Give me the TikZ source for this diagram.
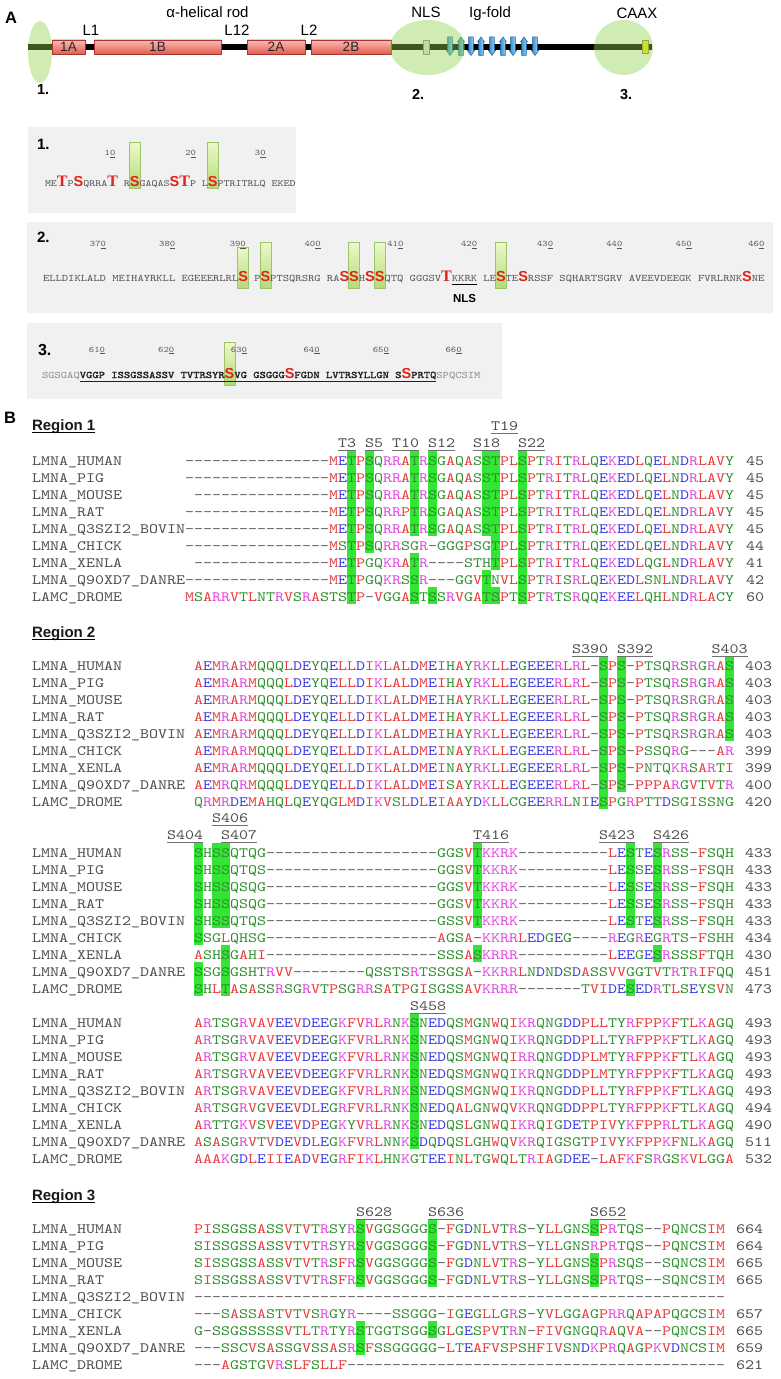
\documentclass[tikz,border=0pt]{standalone}
\usepackage{fontspec}
\usetikzlibrary{calc}
\newfontfamily\alnfont{lmmono10-regular.otf}[FakeStretch=1.2]
\newfontfamily\alnbold{lmmono10-regular.otf}[FakeStretch=1.2,FakeBold=2]
\newfontfamily\sansf{Liberation Sans}
\newfontfamily\serff{Liberation Serif}
\pgfdeclarelayer{bg}
\pgfsetlayers{bg,main}
\definecolor{cred}{HTML}{E83A3A}
\definecolor{cblue}{HTML}{3A3AE0}
\definecolor{cmag}{HTML}{E045E0}
\definecolor{cgreen}{HTML}{2E8F2E}
\definecolor{gapc}{HTML}{606060}
\definecolor{namec}{HTML}{4D4D4D}
\definecolor{labline}{HTML}{707070}
\definecolor{hlc}{HTML}{33E633}
\definecolor{bigred}{HTML}{E02418}
\definecolor{pgray}{HTML}{505050}
\definecolor{pdark}{HTML}{222222}
\definecolor{plight}{HTML}{8A8A8A}
\definecolor{pnumc}{HTML}{555555}
\definecolor{ellg}{rgb}{0.57,0.83,0.29}
\definecolor{pbox}{HTML}{F1F1F1}
\definecolor{bartop}{HTML}{EEF8CA}
\definecolor{barbot}{HTML}{B3DB78}
\definecolor{barbd}{HTML}{9DC46C}
\definecolor{domtop}{HTML}{F9BDB5}
\definecolor{dombot}{HTML}{E35B52}
\definecolor{dombd}{HTML}{A8362C}
\definecolor{igL}{HTML}{2A85CE}
\definecolor{igR}{HTML}{A8DEF8}
\definecolor{igbd}{HTML}{1F5E95}
\colorlet{aaA}{cred}\colorlet{aaV}{cred}\colorlet{aaF}{cred}\colorlet{aaP}{cred}
\colorlet{aaM}{cred}\colorlet{aaI}{cred}\colorlet{aaL}{cred}\colorlet{aaW}{cred}
\colorlet{aaD}{cblue}\colorlet{aaE}{cblue}
\colorlet{aaR}{cmag}\colorlet{aaK}{cmag}
\colorlet{aaS}{cgreen}\colorlet{aaT}{cgreen}\colorlet{aaY}{cgreen}\colorlet{aaH}{cgreen}
\colorlet{aaC}{cgreen}\colorlet{aaN}{cgreen}\colorlet{aaG}{cgreen}\colorlet{aaQ}{cgreen}
\makeatletter
\def\colseq#1{\colseq@#1\@nil}
\def\colseq@#1{\ifx#1\@nil\else\colchar{#1}\expandafter\colseq@\fi}
\makeatother
\def\colchar#1{\if#1-\textcolor{gapc}{-}\else\if#1.\hphantom{-}\else\textcolor{aa#1}{#1}\fi\fi}
\newcommand\psp{\hphantom{M}}
\tikzset{
 aseq/.style={font=\alnfont\fontsize{14.2857bp}{17bp}\selectfont, inner sep=0pt, outer sep=0pt},
 aname/.style={aseq, text=namec},
 alab/.style={aseq, text=namec},
 lablin/.style={draw=labline, line width=1.1bp},
 psa/.style={font=\alnfont\fontsize{9.52bp}{11bp}\selectfont, text=pgray, inner sep=0pt, outer sep=0pt},
 psb/.style={font=\alnfont\fontsize{10bp}{12bp}\selectfont, text=pgray, inner sep=0pt, outer sep=0pt},
 pbd/.style={font=\alnbold\fontsize{10bp}{12bp}\selectfont, text=pdark, inner sep=0pt, outer sep=0pt},
 pgr/.style={font=\alnfont\fontsize{10bp}{12bp}\selectfont, text=plight, inner sep=0pt, outer sep=0pt},
 bigS/.style={font=\sansf\bfseries\fontsize{14.5bp}{16bp}\selectfont, text=bigred, inner sep=0pt, outer sep=0pt},
 bigT/.style={font=\serff\bfseries\fontsize{16bp}{18bp}\selectfont, text=bigred, inner sep=0pt, outer sep=0pt},
 pnum/.style={font=\alnfont\fontsize{8.5bp}{10bp}\selectfont, text=pnumc, inner sep=0pt, outer sep=0pt},
 plab/.style={font=\sansf\bfseries\fontsize{15bp}{17bp}\selectfont, inner sep=0pt, outer sep=0pt},
 toplab/.style={font=\sansf\fontsize{15bp}{17bp}\selectfont, inner sep=0pt, outer sep=0pt},
 dombox/.style={draw=dombd, line width=0.8bp, top color=domtop, bottom color=dombot, minimum height=14bp, inner sep=0pt, font=\sansf\fontsize{13.5bp}{14bp}\selectfont, text=black!85},
 igarr/.style={left color=igL, right color=igR, draw=igbd, line width=0.5bp},
 pbarst/.style={draw=barbd, line width=0.6bp, top color=bartop, bottom color=barbot},
 reghead/.style={font=\sansf\bfseries\fontsize{15bp}{17bp}\selectfont, text=black!90, inner sep=0pt, outer sep=0pt},
}
% alignment row: id, x0, baseline, name, sequence, number, number x
\newcommand\arow[7]{%
  \node[aname, anchor=base west] (#1n) at (32,#3) {#4};
  \node[aseq, anchor=base west] (#1s) at (#2,#3) {\colseq{#5}};
  \node[aname, anchor=base west] (#1c) at (#7,#3) {#6};}
% highlight: x0, column, centre of row 0, first row, last row
\newcommand\hlbox[5]{\fill[hlc] ({#1+9*#2},{#3+17*#4-10.5}) rectangle ({#1+9*#2+9},{#3+17*#5+7});}
% site label: id, x0, column, centre y, text
\newcommand\slab[5]{%
  \node[alab, anchor=base west] (#1) at ({#2+9*#3},{#4+4.4}) {#5};
  \draw[lablin] ($(#1.base west)+(0,3.5)$) -- ($(#1.base east)+(0,3.5)$);}
% green bar behind a big residue: node, top y, bottom y
\newcommand\pbar[3]{\begin{pgfonlayer}{bg}\path[pbarst] ($(#1.center |- 0,#2)+(-5.5,0)$) rectangle ($(#1.center |- 0,#3)+(5.5,0)$);\end{pgfonlayer}}
\newcommand\igup[1]{\path[igarr] ({#1-2.3},55.5) -- ({#1-2.3},42) -- ({#1-3.6},42) -- (#1,37) -- ({#1+3.6},42) -- ({#1+2.3},42) -- ({#1+2.3},55.5) -- cycle;}
\newcommand\igdown[1]{\path[igarr] ({#1-2.3},37) -- ({#1-2.3},50.5) -- ({#1-3.6},50.5) -- (#1,55.5) -- ({#1+3.6},50.5) -- ({#1+2.3},50.5) -- ({#1+2.3},37) -- cycle;}
\begin{document}
\begin{tikzpicture}[x=1bp,y=-1bp]
\useasboundingbox (0,0) rectangle (780,1379);
\begin{pgfonlayer}{bg}
\fill[white] (0,0) rectangle (780,1379);
\fill[pbox] (28,127) rectangle (296,213);
\fill[pbox] (27,222) rectangle (773,313);
\fill[pbox] (27,323) rectangle (502,399);
\end{pgfonlayer}

% ================= Panel A: domain diagram =================
\node[anchor=base west, font=\sansf\bfseries\fontsize{16.5bp}{18bp}\selectfont, inner sep=0pt] (labA) at (5,23.3) {A};
\draw[line width=6bp, black] (28,47) -- (652,47);
\node[dombox, minimum width=33bp] (d1A) at (68.5,47) {1A};
\node[dombox, minimum width=127bp] (d1B) at (157.5,47) {1B};
\node[dombox, minimum width=58bp] (d2A) at (276,47) {2A};
\node[dombox, minimum width=80bp] (d2B) at (351,47) {2B};
\node[draw=black!45, fill=black!18!blue!12!white, minimum width=6bp, minimum height=14bp, inner sep=0pt, line width=0.6bp] (nlsbox) at (426,47) {};
\node[draw=black!50!yellow, fill=yellow!95!orange, minimum width=6bp, minimum height=13bp, inner sep=0pt, line width=0.6bp] (caaxbox) at (645,47) {};
\igdown{450}\igup{461}\igdown{471}\igup{481}\igdown{492}\igup{503}\igdown{513}\igup{524}\igdown{535}
\fill[ellg, opacity=0.42] (40,52) ellipse [x radius=12bp, y radius=31bp];
\fill[ellg, opacity=0.42] (427.5,47.5) ellipse [x radius=37.5bp, y radius=27.5bp];
\fill[ellg, opacity=0.42] (623.5,47.5) ellipse [x radius=29.5bp, y radius=27.5bp];
\node[toplab, anchor=base] (lrod) at (207.5,17.5) {α-helical rod};
\node[toplab, anchor=base] (lL1) at (91,36) {L1};
\node[toplab, anchor=base] (lL12) at (237,36) {L12};
\node[toplab, anchor=base] (lL2) at (309,36) {L2};
\node[toplab, anchor=base] (lNLS) at (426,17.5) {NLS};
\node[toplab, anchor=base] (lIg) at (490,17.5) {Ig-fold};
\node[toplab, anchor=base] (lCAAX) at (637,19) {CAAX};
\node[plab, anchor=base west, font=\sansf\bfseries\fontsize{14.5bp}{16bp}\selectfont] (top1) at (37,95) {1.};
\node[plab, anchor=base west, font=\sansf\bfseries\fontsize{14.5bp}{16bp}\selectfont] (top2) at (412,99.5) {2.};
\node[plab, anchor=base west, font=\sansf\bfseries\fontsize{14.5bp}{16bp}\selectfont] (top3) at (620,99.5) {3.};

% ================= Panel 1 =================
\node[plab, anchor=base west] (pl1) at (37,150) {1.};
\node[psa, anchor=base west] (p1a) at (45,186.5) {ME};
\node[bigT, anchor=base west] (p1T3) at (p1a.base east) {T};
\node[psa, anchor=base west] (p1b) at (p1T3.base east) {P};
\node[bigS, anchor=base west] (p1S5) at (p1b.base east) {S};
\node[psa, anchor=base west] (p1c) at (p1S5.base east) {QRRA};
\node[bigT, anchor=base west] (p1T10) at (p1c.base east) {T};
\node[psa, anchor=base west] (p1d) at (p1T10.base east) {\psp R};
\node[bigS, anchor=base west] (p1S12) at (p1d.base east) {S};
\node[psa, anchor=base west] (p1e) at (p1S12.base east) {GAQAS};
\node[bigS, anchor=base west] (p1S18) at (p1e.base east) {S};
\node[bigT, anchor=base west] (p1T19) at (p1S18.base east) {T};
\node[psa, anchor=base west] (p1f) at (p1T19.base east) {P};
\node[psa, anchor=base west] (p1g) at (p1f.base east) {\psp L};
\node[bigS, anchor=base west] (p1S22) at (p1g.base east) {S};
\node[psa, anchor=base west] (p1h) at (p1S22.base east) {PTRITRLQ};
\begin{scope}
\clip (0,0) rectangle (299,1379);
\node[psa, anchor=base west] (p1i) at (p1h.base east) {\psp EKED};
\end{scope}
\node[pnum, anchor=base east] (n10) at ($(p1T10.center |- 0,156)+(2.7,0)$) {1\underline{0}};
\node[pnum, anchor=base east] (n20) at (p1f.east |- 0,156) {2\underline{0}};
\node[pnum, anchor=base east] (n30) at (p1h.east |- 0,156) {3\underline{0}};
\pbar{p1S12}{142}{188}
\pbar{p1S22}{142}{188}

% ================= Panel 2 =================
\node[plab, anchor=base west] (pl2) at (37,243) {2.};
\node[psb, anchor=base west] (p2a) at (43,281) {ELLDIKLALD};
\node[psb, anchor=base west] (p2b) at (p2a.base east) {\psp MEIHAYRKLL};
\node[psb, anchor=base west] (p2c) at (p2b.base east) {\psp EGEEERLRL};
\node[bigS, anchor=base west] (p2S390) at (p2c.base east) {S};
\node[psb, anchor=base west] (p2d) at (p2S390.base east) {\psp P};
\node[bigS, anchor=base west] (p2S392) at (p2d.base east) {S};
\node[psb, anchor=base west] (p2e) at (p2S392.base east) {PTSQRSRG};
\node[psb, anchor=base west] (p2f) at (p2e.base east) {\psp RA};
\node[bigS, anchor=base west] (p2S403) at (p2f.base east) {S};
\node[bigS, anchor=base west] (p2S404) at (p2S403.base east) {S};
\node[psb, anchor=base west] (p2g) at (p2S404.base east) {H};
\node[bigS, anchor=base west] (p2S406) at (p2g.base east) {S};
\node[bigS, anchor=base west] (p2S407) at (p2S406.base east) {S};
\node[psb, anchor=base west] (p2h) at (p2S407.base east) {QTQ};
\node[psb, anchor=base west] (p2i) at (p2h.base east) {\psp GGGSV};
\node[bigT, anchor=base west] (p2T416) at (p2i.base east) {T};
\node[psb, anchor=base west] (p2j) at (p2T416.base east) {KKRK};
\node[psb, anchor=base west] (p2k) at (p2j.base east) {\psp LE};
\node[bigS, anchor=base west] (p2S423) at (p2k.base east) {S};
\node[psb, anchor=base west] (p2l) at (p2S423.base east) {TE};
\node[bigS, anchor=base west] (p2S426) at (p2l.base east) {S};
\node[psb, anchor=base west] (p2m) at (p2S426.base east) {RSSF};
\node[psb, anchor=base west] (p2n) at (p2m.base east) {\psp SQHARTSGRV};
\node[psb, anchor=base west] (p2o) at (p2n.base east) {\psp AVEEVDEEGK};
\node[psb, anchor=base west] (p2p) at (p2o.base east) {\psp FVRLRNK};
\node[bigS, anchor=base west] (p2S458) at (p2p.base east) {S};
\node[psb, anchor=base west] (p2q) at (p2S458.base east) {NE};
\node[pnum, anchor=base east] (n370) at (p2a.east |- 0,247) {37\underline{0}};
\node[pnum, anchor=base east] (n380) at (p2b.east |- 0,247) {38\underline{0}};
\node[pnum, anchor=base east] (n390) at ($(p2S390.center |- 0,247)+(2.7,0)$) {39\underline{0}};
\node[pnum, anchor=base east] (n400) at (p2e.east |- 0,247) {40\underline{0}};
\node[pnum, anchor=base east] (n410) at (p2h.east |- 0,247) {41\underline{0}};
\node[pnum, anchor=base east] (n420) at (p2j.east |- 0,247) {42\underline{0}};
\node[pnum, anchor=base east] (n430) at (p2m.east |- 0,247) {43\underline{0}};
\node[pnum, anchor=base east] (n440) at (p2n.east |- 0,247) {44\underline{0}};
\node[pnum, anchor=base east] (n450) at (p2o.east |- 0,247) {45\underline{0}};
\node[pnum, anchor=base east] (n460) at (p2q.east |- 0,247) {46\underline{0}};
\draw[line width=1.5bp, black] (p2j.west |- 0,284.5) -- (p2j.east |- 0,284.5);
\node[anchor=base, font=\sansf\bfseries\fontsize{11.5bp}{13bp}\selectfont, inner sep=0pt] (nlslab) at (p2j.center |- 0,302) {NLS};
\pbar{p2S390}{247}{288}
\pbar{p2S392}{242}{288}
\pbar{p2S404}{242}{288}
\pbar{p2S407}{242}{288}
\pbar{p2S423}{242}{288}

% ================= Panel 3 =================
\node[plab, anchor=base west, font=\sansf\bfseries\fontsize{16bp}{18bp}\selectfont] (pl3) at (38,355) {3.};
\node[pgr, anchor=base west] (p3a) at (42,378) {SGSGAQ};
\node[pbd, anchor=base west] (p3b) at (p3a.base east) {VGGP};
\node[pbd, anchor=base west] (p3c) at (p3b.base east) {\psp ISSGSSASSV};
\node[pbd, anchor=base west] (p3d) at (p3c.base east) {\psp TVTRSYR};
\node[bigS, anchor=base west] (p3S628) at (p3d.base east) {S};
\node[pbd, anchor=base west] (p3e) at (p3S628.base east) {VG};
\node[pbd, anchor=base west] (p3f) at (p3e.base east) {\psp GSGGG};
\node[bigS, anchor=base west] (p3S636) at (p3f.base east) {S};
\node[pbd, anchor=base west] (p3g) at (p3S636.base east) {FGDN};
\node[pbd, anchor=base west] (p3h) at (p3g.base east) {\psp LVTRSYLLGN};
\node[pbd, anchor=base west] (p3i) at (p3h.base east) {\psp S};
\node[bigS, anchor=base west] (p3S652) at (p3i.base east) {S};
\node[pbd, anchor=base west] (p3j) at (p3S652.base east) {PRTQ};
\node[pgr, anchor=base west] (p3k) at (p3j.base east) {SPQC};
\node[pgr, anchor=base west] (p3l) at (p3k.base east) {SIM};
\node[pnum, anchor=base east] (n610) at (p3b.east |- 0,352) {61\underline{0}};
\node[pnum, anchor=base east] (n620) at (p3c.east |- 0,352) {62\underline{0}};
\node[pnum, anchor=base east] (n630) at (p3e.east |- 0,352) {63\underline{0}};
\node[pnum, anchor=base east] (n640) at (p3g.east |- 0,352) {64\underline{0}};
\node[pnum, anchor=base east] (n650) at (p3h.east |- 0,352) {65\underline{0}};
\node[pnum, anchor=base east] (n660) at (p3k.east |- 0,352) {66\underline{0}};
\draw[line width=1bp, pdark] (p3b.west |- 0,381) -- (p3j.east |- 0,381);
\pbar{p3S628}{342}{385}

% ================= Panel B =================
\node[anchor=base west, font=\sansf\bfseries\fontsize{16.5bp}{18bp}\selectfont, inner sep=0pt] (labB) at (4,423.5) {B};

% ---- Region 1 ----
\node[reghead, anchor=base west] (reg1) at (32,430) {Region 1};
\draw[line width=1.2bp] ($(reg1.base west)+(0,2.5)$) -- ($(reg1.base east)+(0,2.5)$);
\hlbox{185}{18}{461}{0}{8}
\hlbox{185}{20}{461}{0}{5}
\hlbox{185}{25}{461}{0}{4}\hlbox{185}{25}{461}{6}{8}
\hlbox{185}{27}{461}{0}{4}\hlbox{185}{27}{461}{8}{8}
\hlbox{185}{33}{461}{0}{4}\hlbox{185}{33}{461}{7}{8}
\hlbox{185}{34}{461}{0}{6}\hlbox{185}{34}{461}{8}{8}
\hlbox{185}{37}{461}{0}{8}
\slab{lT3}{185}{17}{443}{T3}
\slab{lS5}{185}{20}{443}{S5}
\slab{lT10}{185}{23}{443}{T10}
\slab{lS12}{185}{27}{443}{S12}
\slab{lS18}{185}{32}{443}{S18}
\slab{lS22}{185}{37}{443}{S22}
\slab{lT19}{185}{34}{426}{T19}
\arow{ra1}{185}{465.4}{LMNA\_HUMAN}{----------------METPSQRRATRSGAQASSTPLSPTRITRLQEKEDLQELNDRLAVY}{45}{746}
\arow{ra2}{185}{482.4}{LMNA\_PIG}{----------------METPSQRRATRSGAQASSTPLSPTRITRLQEKEDLQELNDRLAVY}{45}{746}
\arow{ra3}{185}{499.4}{LMNA\_MOUSE}{.---------------METPSQRRATRSGAQASSTPLSPTRITRLQEKEDLQELNDRLAVY}{45}{746}
\arow{ra4}{185}{516.4}{LMNA\_RAT}{----------------METPSQRRPTRSGAQASSTPLSPTRITRLQEKEDLQELNDRLAVY}{45}{746}
\arow{ra5}{185}{533.4}{LMNA\_Q3SZI2\_BOVIN}{----------------METPSQRRATRSGAQASSTPLSPTRITRLQEKEDLQELNDRLAVY}{45}{746}
\arow{ra6}{185}{550.4}{LMNA\_CHICK}{----------------MSTPSQRRSGR-GGGPSGTPLSPTRITRLQEKEDLQELNDRLAVY}{44}{746}
\arow{ra7}{185}{567.4}{LMNA\_XENLA}{.---------------METPGQKRATR----STHTPLSPTRITRLQEKEDLQGLNDRLAVY}{41}{746}
\arow{ra8}{185}{584.4}{LMNA\_Q90XD7\_DANRE}{----------------METPGQKRSSR---GGVTNVLSPTRISRLQEKEDLSNLNDRLAVY}{42}{746}
\arow{ra9}{185}{601.4}{LAMC\_DROME}{MSARRVTLNTRVSRASTSTP-VGGASTSSRVGATSPTSPTRTSRQQEKEELQHLNDRLACY}{60}{746}

% ---- Region 2, block 1 ----
\node[reghead, anchor=base west] (reg2) at (32,637) {Region 2};
\draw[line width=1.2bp] ($(reg2.base west)+(0,2.5)$) -- ($(reg2.base east)+(0,2.5)$);
\hlbox{194}{45}{666}{0}{8}
\hlbox{194}{47}{666}{0}{7}
\hlbox{194}{59}{666}{0}{4}
\slab{lS390}{194}{42}{649}{S390}
\slab{lS392}{194}{47}{649}{S392}
\slab{lS403}{194}{57.5}{649}{S403}
\arow{rb1}{194}{670.4}{LMNA\_HUMAN}{AEMRARMQQQLDEYQELLDIKLALDMEIHAYRKLLEGEEERLRL-SPS-PTSQRSRGRAS}{403}{745}
\arow{rb2}{194}{687.4}{LMNA\_PIG}{AEMRARMQQQLDEYQELLDIKLALDMEIHAYRKLLEGEEERLRL-SPS-PTSQRSRGRAS}{403}{745}
\arow{rb3}{194}{704.4}{LMNA\_MOUSE}{AEMRARMQQQLDEYQELLDIKLALDMEIHAYRKLLEGEEERLRL-SPS-PTSQRSRGRAS}{403}{745}
\arow{rb4}{194}{721.4}{LMNA\_RAT}{AEMRARMQQQLDEYQELLDIKLALDMEIHAYRKLLEGEEERLRL-SPS-PTSQRSRGRAS}{403}{745}
\arow{rb5}{194}{738.4}{LMNA\_Q3SZI2\_BOVIN}{AEMRARMQQQLDEYQELLDIKLALDMEIHAYRKLLEGEEERLRL-SPS-PTSQRSRGRAS}{403}{745}
\arow{rb6}{194}{755.4}{LMNA\_CHICK}{AEMRARMQQQLDEYQELLDIKLALDMEINAYRKLLEGEEERLRL-SPS-PSSQRG---AR}{399}{745}
\arow{rb7}{194}{772.4}{LMNA\_XENLA}{AEMRARMQQQLDEYQELLDIKLALDMEINAYRKLLEGEEERLRL-SPS-PNTQKRSARTI}{399}{745}
\arow{rb8}{194}{789.4}{LMNA\_Q90XD7\_DANRE}{AEMRQRMQQQLDEYQELLDIKLALDMEISAYRKLLEGEEERLRL-SPS-PPPARGVTVTR}{400}{745}
\arow{rb9}{194}{806.4}{LAMC\_DROME}{QRMRDEMAHQLQEYQGLMDIKVSLDLEIAAYDKLLCGEERRLNIESPGRPTTDSGISSNG}{420}{745}

% ---- Region 2, block 2 ----
\hlbox{194}{0}{853}{0}{5}\hlbox{194}{0}{853}{7}{8}
\hlbox{194}{2}{853}{0}{4}
\hlbox{194}{3}{853}{0}{4}\hlbox{194}{3}{853}{6}{8}
\hlbox{194}{31}{853}{0}{4}\hlbox{194}{31}{853}{6}{6}
\hlbox{194}{48}{853}{0}{4}\hlbox{194}{48}{853}{8}{8}
\hlbox{194}{51}{853}{0}{4}\hlbox{194}{51}{853}{6}{6}
\slab{lS406}{194}{2}{818}{S406}
\slab{lS404}{194}{-3}{835}{S404}
\slab{lS407}{194}{3}{835}{S407}
\slab{lT416}{194}{31}{835}{T416}
\slab{lS423}{194}{45}{835}{S423}
\slab{lS426}{194}{51}{835}{S426}
\arow{rc1}{194}{857.4}{LMNA\_HUMAN}{SHSSQTQG-------------------GGSVTKKRK----------LESTESRSS-FSQH}{433}{745}
\arow{rc2}{194}{874.4}{LMNA\_PIG}{SHSSQTQS-------------------GGSVTKKRK----------LESSESRSS-FSQH}{433}{745}
\arow{rc3}{194}{891.4}{LMNA\_MOUSE}{SHSSQSQG-------------------GGSVTKKRK----------LESSESRSS-FSQH}{433}{745}
\arow{rc4}{194}{908.4}{LMNA\_RAT}{SHSSQSQG-------------------GGSVTKKRK----------LESSESRSS-FSQH}{433}{745}
\arow{rc5}{194}{925.4}{LMNA\_Q3SZI2\_BOVIN}{SHSSQTQS-------------------GSSVTKKRK----------LESTESRSS-FSQH}{433}{745}
\arow{rc6}{194}{942.4}{LMNA\_CHICK}{SSGLQHSG-------------------AGSA-KKRRLEDGEG----REGREGRTS-FSHH}{434}{745}
\arow{rc7}{194}{959.4}{LMNA\_XENLA}{ASHSGAHI-------------------SSSASKRRR----------LEEGESRSSSFTQH}{430}{745}
\arow{rc8}{194}{976.4}{LMNA\_Q90XD7\_DANRE}{SSGSGSHTRVV--------QSSTSRTSSGSA-KKRRLNDNDSDASSVVGGTVTRTRIFQQ}{451}{745}
\arow{rc9}{194}{993.4}{LAMC\_DROME}{SHLTASASSRSGRVTPSGRRSATPGISGSSAVKRRR-------TVIDESEDRTLSEYSVN}{473}{745}

% ---- Region 2, block 3 ----
\hlbox{194}{24}{1023}{0}{7}
\slab{lS458}{194}{24}{1006}{S458}
\arow{rd1}{194}{1027.4}{LMNA\_HUMAN}{ARTSGRVAVEEVDEEGKFVRLRNKSNEDQSMGNWQIKRQNGDDPLLTYRFPPKFTLKAGQ}{493}{745}
\arow{rd2}{194}{1044.4}{LMNA\_PIG}{ARTSGRVAVEEVDEEGKFVRLRNKSNEDQSMGNWQIKRQNGDDPLLTYRFPPKFTLKAGQ}{493}{745}
\arow{rd3}{194}{1061.4}{LMNA\_MOUSE}{ARTSGRVAVEEVDEEGKFVRLRNKSNEDQSMGNWQIRRQNGDDPLMTYRFPPKFTLKAGQ}{493}{745}
\arow{rd4}{194}{1078.4}{LMNA\_RAT}{ARTSGRVAVEEVDEEGKFVRLRNKSNEDQSMGNWQIKRQNGDDPLMTYRFPPKFTLKAGQ}{493}{745}
\arow{rd5}{194}{1095.4}{LMNA\_Q3SZI2\_BOVIN}{ARTSGRVAVEEVDEEGKFVRLRNKSNEDQSMGNWQIKRQNGDDPLLTYRFPPKFTLKAGQ}{493}{745}
\arow{rd6}{194}{1112.4}{LMNA\_CHICK}{ARTSGRVGVEEVDLEGRFVRLRNKSNEDQALGNWQVKRQNGDDPPLTYRFPPKFTLKAGQ}{494}{745}
\arow{rd7}{194}{1129.4}{LMNA\_XENLA}{ARTTGKVSVEEVDPEGKYVRLRNKSNEDQSLGNWQIKRQIGDETPIVYKFPPRLTLKAGQ}{490}{745}
\arow{rd8}{194}{1146.4}{LMNA\_Q90XD7\_DANRE}{ASASGRVTVDEVDLEGKFVRLNNKSDQDQSLGHWQVKRQIGSGTPIVYKFPPKFNLKAGQ}{511}{745}
\arow{rd9}{194}{1163.4}{LAMC\_DROME}{AAAKGDLEIIEADVEGRFIKLHNKGTEEINLTGWQLTRIAGDEE-LAFKFSRGSKVLGGA}{532}{745}

% ---- Region 3 ----
\node[reghead, anchor=base west] (reg3) at (32,1200) {Region 3};
\draw[line width=1.2bp] ($(reg3.base west)+(0,2.5)$) -- ($(reg3.base east)+(0,2.5)$);
\hlbox{194}{18}{1229}{0}{3}\hlbox{194}{18}{1229}{6}{7}
\hlbox{194}{26}{1229}{0}{3}\hlbox{194}{26}{1229}{6}{6}
\hlbox{194}{44}{1229}{0}{0}\hlbox{194}{44}{1229}{2}{3}
\slab{lS628}{194}{18}{1212}{S628}
\slab{lS636}{194}{26}{1212}{S636}
\slab{lS652}{194}{44}{1212}{S652}
\arow{re1}{194}{1233.4}{LMNA\_HUMAN}{PISSGSSASSVTVTRSYRSVGGSGGGS-FGDNLVTRS-YLLGNSSPRTQS--PQNCSIM}{664}{736}
\arow{re2}{194}{1250.4}{LMNA\_PIG}{SISSGSSASSVTVTRSYRSVGGSGGGS-FGDNLVTRS-YLLGNSRPRTQS--PQNCSIM}{664}{736}
\arow{re3}{194}{1267.4}{LMNA\_MOUSE}{SISSGSSASSVTVTRSFRSVGGSGGGS-FGDNLVTRS-YLLGNSSPRSQS--SQNCSIM}{665}{736}
\arow{re4}{194}{1284.4}{LMNA\_RAT}{SISSGSSASSVTVTRSFRSVGGSGGGS-FGDNLVTRS-YLLGNSSPRTQS--SQNCSIM}{665}{736}
\arow{re5}{194}{1301.4}{LMNA\_Q3SZI2\_BOVIN}{-----------------------------------------------------------}{}{736}
\arow{re6}{194}{1318.4}{LMNA\_CHICK}{---SASSASTVTVSRGYR----SSGGG-IGEGLLGRS-YVLGGAGPRRQAPAPQGCSIM}{657}{736}
\arow{re7}{194}{1335.4}{LMNA\_XENLA}{G-SSGSSSSSVTLTRTYRSTGGTSGGSGLGESPVTRN-FIVGNGQRAQVA--PQNCSIM}{665}{736}
\arow{re8}{194}{1352.4}{LMNA\_Q90XD7\_DANRE}{---SSCVSASSGVSSASRSFSSGGGGG-LTEAFVSPSHFIVSNDKPRQAGPKVDNCSIM}{659}{736}
\arow{re9}{194}{1369.4}{LAMC\_DROME}{---AGSTGVRSLFSLLF------------------------------------------}{621}{736}
\end{tikzpicture}
\end{document}
